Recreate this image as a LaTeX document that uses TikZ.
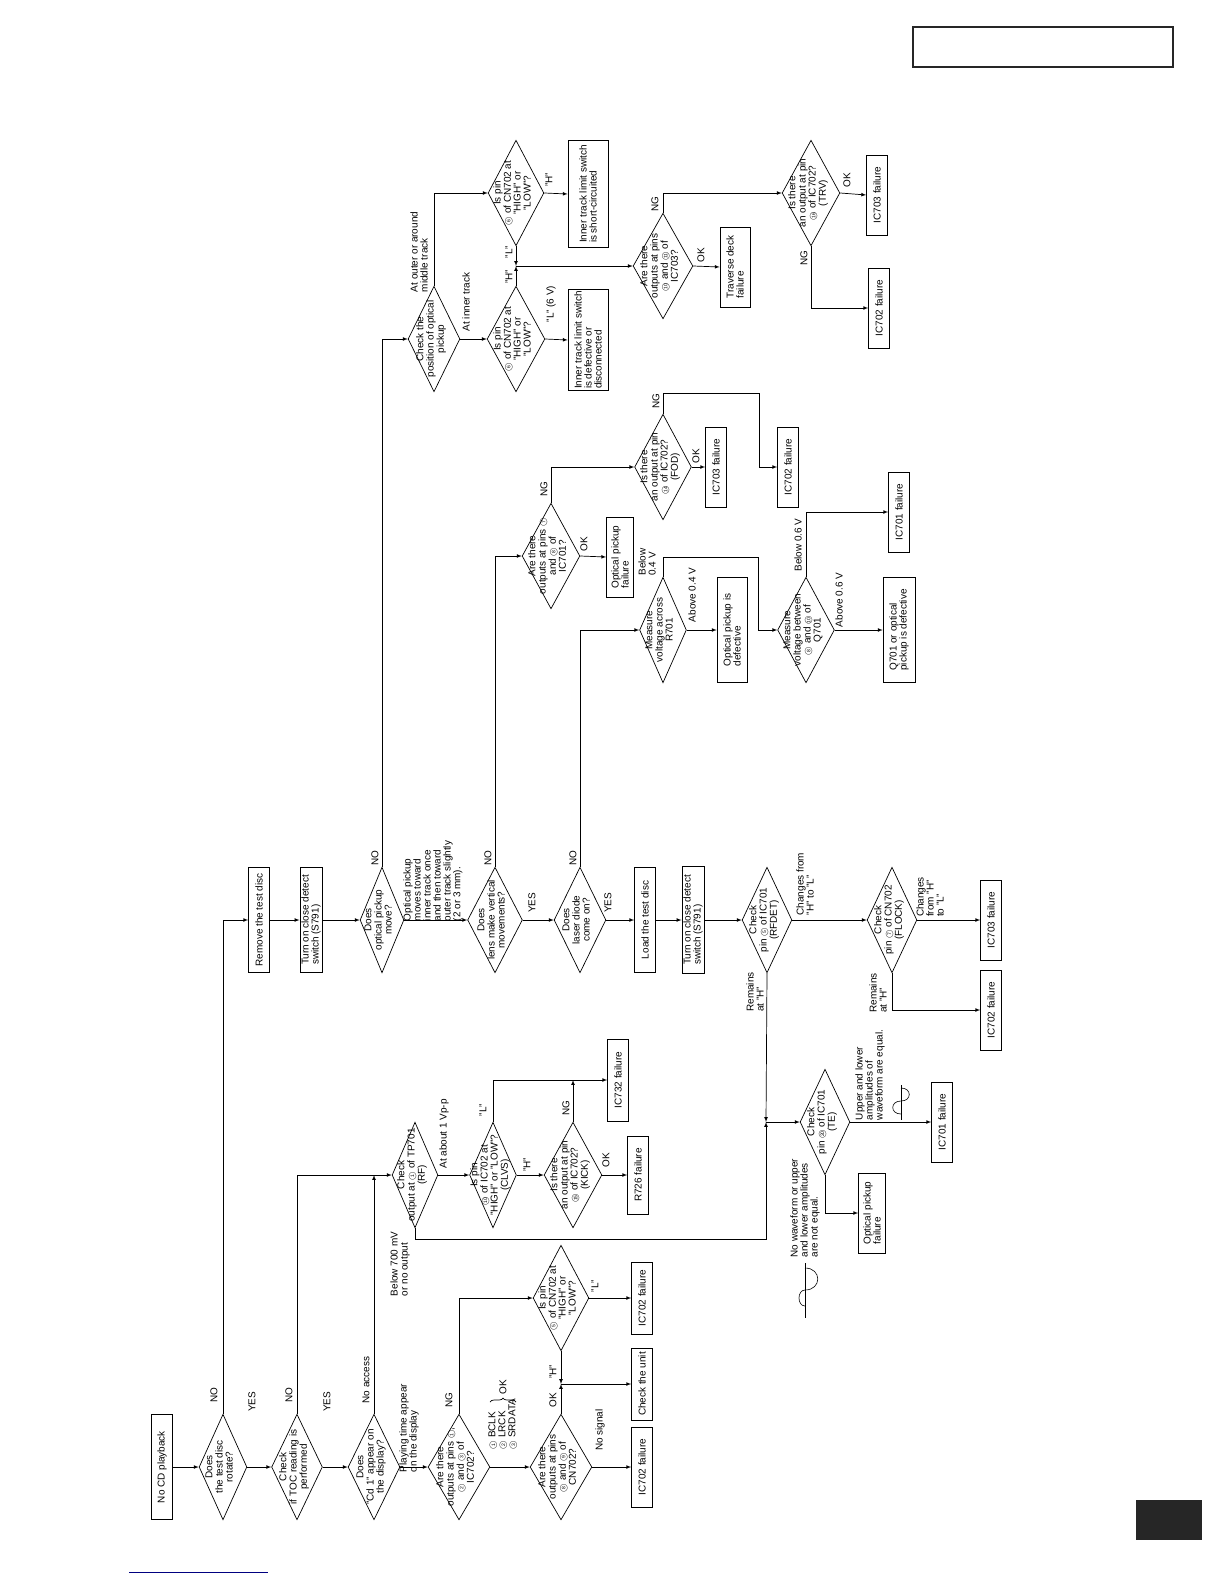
\documentclass[tikz,border=0pt]{standalone}
\usepackage{fontspec}
\setmainfont{Liberation Sans}
\usetikzlibrary{shapes.geometric,decorations.pathreplacing}
\newcommand{\pin}[1]{{\fontsize{8.5}{8.5}\selectfont\ooalign{$\bigcirc$\crcr
  \hfil\raisebox{0.4pt}{\fontsize{5}{5}\selectfont #1}\hfil}}}
\newcommand{\dtext}[1]{\smash{\makebox[0pt]{\begin{tabular}{@{}c@{}}#1\end{tabular}}}}

\begin{document}
\begin{tikzpicture}[x=1bp, y=-1bp, >=latex, line width=0.7bp,
    font=\fontsize{10}{10}\selectfont,
    box/.style={draw, rotate=90, align=left, inner sep=1.5pt,
      minimum width=#1, minimum height=21},
    box/.default=80,
    dia/.style={draw, diamond, rotate=90, inner sep=0pt,
      minimum width=106, minimum height=#1},
    dia/.default=52,
    lbl/.style={rotate=90, align=left, inner sep=0pt}]
    \fill[white] (0,0) rectangle (1224,1584);

    % ── Page furniture ───────────────────────────────────────────────
    \draw[line width=2bp, black!85] (913,27) rectangle (1173,67);
    \fill[black!85] (1136,1500) rectangle (1202,1540);
    \draw[blue!50!black, line width=0.8bp] (129,1572) -- (268,1572);

    % ── Main chain (bottom) ──────────────────────────────────────────
    \node[box=106] (nocd) at (162,1467) {No CD playback};
    \node[dia=48] (d1) at (223,1467) {\dtext{Does\\the test disc\\rotate?}};
    \node[dia=51] (d2) at (297,1467) {\dtext{Check\\if TOC reading is\\performed}};
    \node[dia=52] (d3) at (374,1467) {\dtext{Does\\"Cd 1" appear on\\the display?}};
    \node[dia=62] (d4) at (459,1467)
      {\dtext{Are there\\outputs at pins \pin{1},\\\pin{2} and \pin{3} of\\IC702?}};
    \node[dia=62] (d5) at (561,1467)
      {\dtext{Are there\\outputs at pins\\\pin{8} and \pin{9} of\\CN702?}};
    \node[box] (fail1) at (642,1467) {IC702 failure};
    \node[dia=56] (d6) at (561,1298)
      {\dtext{Is pin\\\pin{5} of CN702 at\\"HIGH" or\\"LOW"?}};
    \node[box=72] (unit) at (642,1384) {Check the unit};
    \node[box=72] (fail2) at (642,1298) {IC702 failure};
    \coordinate (j1) at (561,1384);

    \node[lbl] (ldn1) at (214,1395) {NO};
    \node[lbl] (ldy1) at (252,1402) {YES};
    \node[lbl] (ldn2) at (289,1395) {NO};
    \node[lbl] (ldy2) at (327,1402) {YES};
    \node[lbl] (lnoacc) at (366,1380) {No access};
    \node[lbl] (lplay) at (409,1428) {Playing time appear\\on the display};
    \node[lbl] (lng4) at (449,1400) {NG};
    \node[lbl] (lsig) at (502,1424) {\pin{1} BCLK\\\pin{2} LRCK\\\pin{3} SRDATA};
    \draw[decorate, decoration={brace, amplitude=4}] (490,1402) -- (516,1402);
    \node[lbl] (lsigok) at (503,1387) {OK};
    \node[lbl] (lok5) at (553,1400) {OK};
    \node[lbl] (lh6) at (553,1372) {"H"};
    \node[lbl] (lnosig) at (600,1430) {No signal};
    \node[lbl] (ll6) at (595,1286) {"L"};

    \draw[->] (nocd.south) -- (d1.north);
    \draw[->] (d1.south) -- (d2.north);
    \draw[->] (d2.south) -- (d3.north);
    \draw[->] (d3.south) -- (d4.north);
    \draw[->] (d4.south) -- (d5.north);
    \draw[->] (d5.south) -- (fail1.north);
    \draw[->] (d5.east) -- (j1);
    \draw[->] (d6.west) -- (j1);
    \draw[->] (j1) -- (unit.north);
    \draw[->] (d4.east) |- (d6.north);
    \draw[->] (d6.south) -- (fail2.north);

    % ── RF check ─────────────────────────────────────────────────────
    \node[dia=46] (d7) at (415,1175) {\dtext{Check\\output at \pin{1} of TP701\\(RF)}};
    \node[dia=47] (d8) at (493,1175)
      {\dtext{Is pin\\\pin{10} of IC702 at\\"HIGH" or "LOW"?\\(CLVS)}};
    \node[dia=58] (d9) at (573,1175)
      {\dtext{Is there\\an output at pin\\\pin{15} of IC702?\\(KICK)}};
    \node[box=78] (fail3) at (638,1175) {R726 failure};
    \node[box=82] (fail4) at (618,1080) {IC732 failure};
    \coordinate (j4) at (766,1239);

    \node[lbl] (lvpp) at (444,1134) {At about 1 Vp-p};
    \node[lbl] (l700) at (400,1264) {Below 700 mV\\or no output};
    \node[lbl] (ll8) at (483,1110) {"L"};
    \node[lbl] (lh8) at (527,1165) {"H"};
    \node[lbl] (lng9) at (566,1108) {NG};
    \node[lbl] (lok9) at (606,1160) {OK};

    \draw[->] (d2.east) |- (d7.north);
    \draw[->] (d3.east) -- (d3.east |- d7.north);
    \draw[->] (d7.south) -- (d8.north);
    \draw[->] (d8.south) -- (d9.north);
    \draw[->] (d9.south) -- (fail3.north);
    \draw[->] (d8.east) |- (fail4.north);
    \draw[->] (d9.east) -- (d9.east |- fail4.north);

    % ── TE check ─────────────────────────────────────────────────────
    \node[dia=50] (dte) at (825,1122) {\dtext{Check\\pin \pin{20} of IC701\\(TE)}};
    \node[box] (fail5) at (942,1122) {IC701 failure};
    \node[box, minimum height=27] (fail6) at (872,1213) {Optical pickup\\failure};
    \coordinate (j2) at (766,1122);

    \node[lbl] (leq) at (870,1075) {Upper and lower\\amplitudes of\\waveform are equal.};
    \node[lbl] (lneq) at (805,1208) {No waveform or upper\\and lower amplitudes\\are not equal.};
    \draw[line width=0.6] (901,1085) -- (901,1120);
    \draw[line width=0.6] (901,1088) .. controls (912,1088) and (912,1101) .. (901,1101)
      .. controls (890,1101) and (890,1114) .. (901,1114);
    \draw[line width=0.6] (805,1263) -- (805,1318);
    \draw[line width=0.6] (805,1268) .. controls (822,1268) and (822,1290) .. (805,1290)
      .. controls (797,1290) and (797,1306) .. (805,1306);

    % ── Middle row ───────────────────────────────────────────────────
    \node[box=105] (remove) at (259,920) {Remove the test disc};
    \node[box=105] (turn1) at (311,920) {Turn on close detect\\switch (S791)};
    \node[dia=44] (dmove) at (382,920) {\dtext{Does\\optical pickup\\move?}};
    \node[dia=55] (dlens) at (495,920) {\dtext{Does\\lens make vertical\\movements?}};
    \node[dia=52] (dlaser) at (580,920) {\dtext{Does\\laser diode\\come on?}};
    \node[box=105] (load) at (645,920) {Load the test disc};
    \node[box=107] (turn2) at (693,920) {Turn on close detect\\switch (S791)};
    \node[dia=50] (drfdet) at (767,920) {\dtext{Check\\pin \pin{5} of IC701\\(RFDET)}};
    \node[dia=50] (dflock) at (892,920) {\dtext{Check\\pin \pin{7} of CN702\\(FLOCK)}};
    \node[box] (fail7) at (991,920) {IC703 failure};
    \node[box] (fail8) at (991,1010) {IC702 failure};

    \node[lbl] (lnom) at (375,858) {NO};
    \node[lbl] (lmoves) at (433,881) {Optical pickup\\moves toward\\inner track once\\and then toward\\outer track slightly\\(2 or 3 mm).};
    \node[lbl] (lnol) at (488,858) {NO};
    \node[lbl] (lyesl) at (532,903) {YES};
    \node[lbl] (lnod) at (573,858) {NO};
    \node[lbl] (lyesd) at (608,903) {YES};
    \node[lbl] (lchg1) at (805,884) {Changes from\\"H" to "L"};
    \node[lbl] (lrem1) at (755,992) {Remains\\at "H"};
    \node[lbl] (lchg2) at (930,897) {Changes\\from "H"\\to "L"};
    \node[lbl] (lrem2) at (878,993) {Remains\\at "H"};

    \draw[->] (d1.east) |- (remove.north);
    \draw[->] (remove.south) -- (turn1.north);
    \draw[->] (turn1.south) -- (dmove.north);
    \draw[->] (dmove.south) -- (dlens.north);
    \draw[->] (dlens.south) -- (dlaser.north);
    \draw[->] (dlaser.south) -- (load.north);
    \draw[->] (load.south) -- (turn2.north);
    \draw[->] (turn2.south) -- (drfdet.north);
    \draw[->] (drfdet.south) -- (dflock.north);
    \draw[->] (dflock.south) -- (fail7.north);
    \draw[->] (dflock.west) |- (fail8.north);
    \draw[->] (d7.west) |- (j4) -- (j2);
    \draw[->] (drfdet.west) -- (j2);
    \draw[->] (j2) -- (dte.north);
    \draw[->] (dte.south) -- (fail5.north);
    \draw[->] (dte.west) |- (fail6.north);

    % ── Pickup position (top) ────────────────────────────────────────
    \node[dia=52] (dpos) at (434,339) {\dtext{Check the\\position of optical\\pickup}};
    \node[dia=58] (din) at (516,339) {\dtext{Is pin\\\pin{6} of CN702 at\\"HIGH" or\\"LOW"?}};
    \node[dia=56] (dout) at (516,193) {\dtext{Is pin\\\pin{6} of CN702 at\\"HIGH" or\\"LOW"?}};
    \node[box=100, minimum height=40] (inner1) at (588,340)
      {Inner track limit switch\\is defective or\\disconnected};
    \node[box=108, minimum height=40] (inner2) at (588,194)
      {Inner track limit switch\\is short-circuited};
    \coordinate (j3) at (516,266);
    \node[dia=60] (dic703) at (663,266)
      {\dtext{Are there\\outputs at pins\\\pin{10} and \pin{11} of\\IC703?}};
    \node[box, minimum height=30] (trav) at (735,267) {Traverse deck\\failure};
    \node[dia=58] (dtrv) at (811,193)
      {\dtext{Is there\\an output at pin\\\pin{16} of IC702?\\(TRV)}};
    \node[box] (fail9) at (877,195) {IC703 failure};
    \node[box] (fail10) at (879,308) {IC702 failure};

    \node[lbl] (louter) at (419,252) {At outer or around\\middle track};
    \node[lbl] (linner) at (466,302) {At inner track};
    \node[lbl] (ll6v) at (551,304) {"L" (6 V)};
    \node[lbl] (lhout) at (549,180) {"H"};
    \node[lbl] (lhin) at (509,277) {"H"};
    \node[lbl] (llout) at (509,252) {"L"};
    \node[lbl] (lng703) at (655,204) {NG};
    \node[lbl] (lok703) at (701,255) {OK};
    \node[lbl] (lngtrv) at (804,258) {NG};
    \node[lbl] (loktrv) at (847,180) {OK};

    \draw[->] (dmove.east) |- (dpos.north);
    \draw[->] (dpos.south) -- (din.north);
    \draw[->] (dpos.east) |- (dout.north);
    \draw[->] (din.south) -- (inner1.north);
    \draw[->] (dout.south) -- (inner2.north);
    \draw[->] (din.east) -- (j3);
    \draw[->] (dout.west) -- (j3);
    \draw[->] (j3) -- (dic703.north);
    \draw[->] (dic703.south) -- (trav.north);
    \draw[->] (dic703.east) |- (dtrv.north);
    \draw[->] (dtrv.south) -- (fail9.north);
    \draw[->] (dtrv.west) |- (fail10.north);

    % ── Laser / lens checks ──────────────────────────────────────────
    \node[dia=58] (drf) at (551,556)
      {\dtext{Are there\\outputs at pins \pin{7}\\and \pin{8} of\\IC701?}};
    \node[box, minimum height=27] (fail11) at (620,557) {Optical pickup\\failure};
    \node[dia=57] (dfod) at (663,467)
      {\dtext{Is there\\an output at pin\\\pin{14} of IC702?\\(FOD)}};
    \node[box] (fail12) at (716,467) {IC703 failure};
    \node[box] (fail13) at (788,467) {IC702 failure};
    \coordinate (fodbend) at (759,393);
    \node[dia=47] (dr701) at (663,630) {\dtext{Measure\\voltage across\\R701}};
    \node[box=106, minimum height=30] (optdef) at (732,630) {Optical pickup is\\defective};
    \node[dia=57] (dq701) at (806,630)
      {\dtext{Measure\\voltage between\\\pin{8} and \pin{10} of\\Q701}};
    \node[box=106, minimum height=32] (q701def) at (899,630) {Q701 or optical\\pickup is defective};
    \node[box] (fail14) at (899,512) {IC701 failure};
    \coordinate (r701bend) at (758,557);

    \node[lbl] (lngrf) at (544,489) {NG};
    \node[lbl] (lokrf) at (584,544) {OK};
    \node[lbl] (lngfod) at (656,401) {NG};
    \node[lbl] (lokfod) at (696,456) {OK};
    \node[lbl] (lb04) at (647,562) {Below\\0.4 V};
    \node[lbl] (la04) at (692,595) {Above 0.4 V};
    \node[lbl] (la06) at (839,600) {Above 0.6 V};
    \node[lbl] (lb06) at (798,545) {Below 0.6 V};

    \draw[->] (dlens.east) |- (drf.north);
    \draw[->] (drf.south) -- (fail11.north);
    \draw[->] (drf.east) |- (dfod.north);
    \draw[->] (dfod.south) -- (fail12.north);
    \draw[->] (dfod.east) |- (fodbend) |- (fail13.north);
    \draw[->] (dlaser.east) |- (dr701.north);
    \draw[->] (dr701.south) -- (optdef.north);
    \draw[->] (dr701.east) |- (r701bend) |- (dq701.north);
    \draw[->] (dq701.south) -- (q701def.north);
    \draw[->] (dq701.east) |- (fail14.north);
  \end{tikzpicture}
\end{document}
